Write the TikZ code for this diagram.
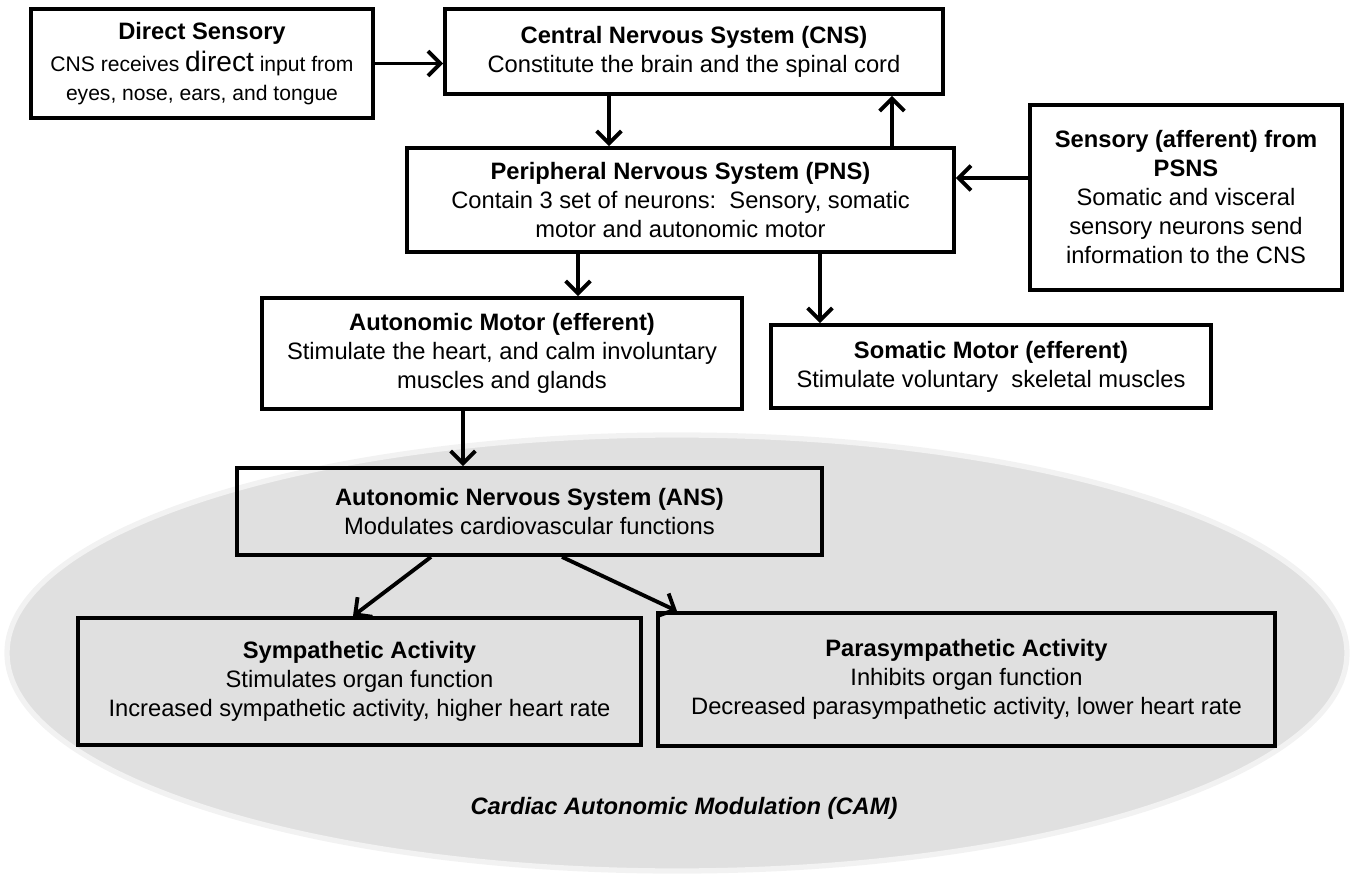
\documentclass[tikz,border=0pt]{standalone}
\usepackage{fontspec}
\setmainfont{Liberation Sans}
\usetikzlibrary{arrows.meta,positioning}

\begin{document}
\begin{tikzpicture}[
  box/.style={draw, line width=2.2pt, align=center, inner sep=0pt, font=\fontsize{13.5}{16.5}\selectfont},
  arr/.style={line width=2.2pt, -{Straight Barb[length=7pt,width=14pt]}}]
\useasboundingbox (0,0) rectangle (27.04,-17.5);
\fill[black!12, draw=black!5, line width=3pt] (13.54,-13.06) ellipse [x radius=13.4, y radius=4.36];
\node[box, minimum width=6.84cm, minimum height=2.18cm] (direct) at (4.04,-1.27)
  {\textbf{Direct Sensory}\\[2pt]{\fontsize{12}{15}\selectfont CNS receives {\fontsize{16}{15}\selectfont direct} input from}\\{\fontsize{12}{15}\selectfont eyes, nose, ears, and tongue}};
\node[box, minimum width=9.96cm, minimum height=1.7cm] (cns) at (13.88,-1.03)
  {\textbf{Central Nervous System (CNS)}\\Constitute the brain and the spinal cord};
\node[box, minimum width=10.94cm, minimum height=2.08cm] (pns) at (13.61,-4.0)
  {\textbf{Peripheral Nervous System (PNS)}\\Contain 3 set of neurons:\ \ Sensory, somatic\\motor and autonomic motor};
\node[box, minimum width=6.24cm, minimum height=3.7cm] (psns) at (23.72,-3.95)
  {\textbf{Sensory (afferent) from}\\\textbf{PSNS}\\Somatic and visceral\\sensory neurons send\\information to the CNS};
\node[box, minimum width=9.6cm, minimum height=2.22cm] (am) at (10.04,-7.07)
  {\textbf{Autonomic Motor (efferent)}\\Stimulate the heart, and calm involuntary\\muscles and glands};
\node[box, minimum width=8.8cm, minimum height=1.66cm] (som) at (19.82,-7.33)
  {\textbf{Somatic Motor (efferent)}\\Stimulate voluntary\ \ skeletal muscles};
\node[box, minimum width=11.7cm, minimum height=1.74cm] (ans) at (10.59,-10.23)
  {\textbf{Autonomic Nervous System (ANS)}\\Modulates cardiovascular functions};
\node[box, minimum width=11.26cm, minimum height=2.54cm] (symp) at (7.19,-13.63)
  {\textbf{Sympathetic Activity}\\Stimulates organ function\\Increased sympathetic activity, higher heart rate};
\node[box, minimum width=12.34cm, minimum height=2.66cm] (para) at (19.33,-13.59)
  {\textbf{Parasympathetic Activity}\\Inhibits organ function\\Decreased parasympathetic activity, lower heart rate};
\node[font=\fontsize{13.5}{16.5}\selectfont\bfseries\itshape] (cam) at (13.68,-16.17) {Cardiac Autonomic Modulation (CAM)};
\draw[arr] (direct.east) -- (direct.east -| cns.west);
\draw[arr] ([xshift=-1.7cm]cns.south) -- ([xshift=-1.7cm]cns.south |- pns.north);
\draw[arr] ([xshift=4.23cm]pns.north) -- ([xshift=4.23cm]pns.north |- cns.south);
\draw[arr] ([yshift=0.39cm]psns.west) -- ([yshift=0.39cm]psns.west -| pns.east);
\draw[arr] ([xshift=-2.05cm]pns.south) -- ([xshift=-2.05cm]pns.south |- am.north);
\draw[arr] ([xshift=2.79cm]pns.south) -- ([xshift=2.79cm]pns.south |- som.north);
\draw[arr] ([xshift=-0.78cm]am.south) -- ([xshift=-0.78cm]am.south |- ans.north);
\draw[arr] ([xshift=-1.97cm]ans.south) -- ([xshift=-0.13cm]symp.north);
\draw[arr] ([xshift=0.65cm]ans.south) -- ([xshift=-5.79cm]para.north);
\end{tikzpicture}
\end{document}
